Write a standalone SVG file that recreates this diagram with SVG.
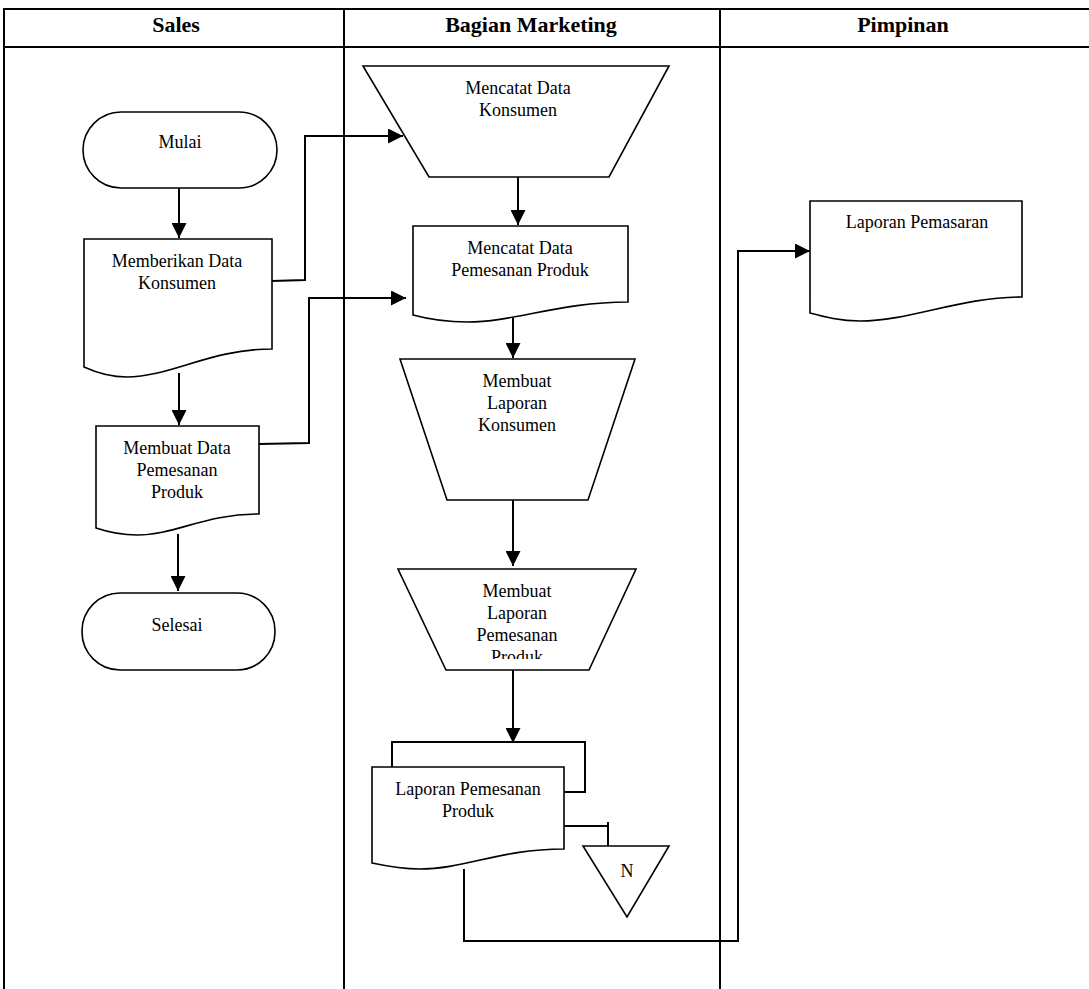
<svg xmlns="http://www.w3.org/2000/svg" width="1089" height="989" viewBox="0 0 1089 989">
<style>
.lane{stroke:#000;stroke-width:2;fill:none}
.shape{fill:#fff;stroke:#000;stroke-width:1.6}
.conn{fill:none;stroke:#000;stroke-width:2}
.t{font-family:"Liberation Serif","Times New Roman",serif;font-size:18px;fill:#000;text-anchor:middle}
.h{font-family:"Liberation Serif","Times New Roman",serif;font-size:22px;font-weight:bold;fill:#000;text-anchor:middle}
</style>
<defs>
<marker id="arr" markerUnits="userSpaceOnUse" markerWidth="15" markerHeight="15" refX="15" refY="7.5" orient="auto">
<path d="M0,0 L15,7.5 L0,15 Z" fill="#000"/>
</marker>
<clipPath id="clipT3"><rect x="380" y="560" width="280" height="99"/></clipPath>
</defs>
<rect width="1089" height="989" fill="#fff"/>
<g id="lanes">
<line class="lane" x1="3" y1="9" x2="1089" y2="9"/>
<line class="lane" x1="3" y1="47" x2="1089" y2="47"/>
<line class="lane" x1="4" y1="8" x2="4" y2="989"/>
<line class="lane" x1="344" y1="8" x2="344" y2="989"/>
<line class="lane" x1="720" y1="8" x2="720" y2="989"/>
<text class="h" x="176" y="32">Sales</text>
<text class="h" x="531" y="32">Bagian Marketing</text>
<text class="h" x="903" y="32">Pimpinan</text>
</g>
<g id="connectors">
<path class="conn" d="M179,188 V238" marker-end="url(#arr)"/>
<path class="conn" d="M179,373 V425" marker-end="url(#arr)"/>
<path class="conn" d="M178,534 V591" marker-end="url(#arr)"/>
<path class="conn" d="M272,281 L305,280 V136 H403" marker-end="url(#arr)"/>
<path class="conn" d="M259,444 L309,443 V298 H406" marker-end="url(#arr)"/>
<path class="conn" d="M518,177 V225" marker-end="url(#arr)"/>
<path class="conn" d="M513,318 V358" marker-end="url(#arr)"/>
<path class="conn" d="M513,500 V566" marker-end="url(#arr)"/>
<path class="conn" d="M513,670 V743" marker-end="url(#arr)"/>
<path class="conn" d="M560,826 H608 M608,822 V846"/>
<path class="conn" d="M464,869 V941 H738 V251 H810" marker-end="url(#arr)"/>
</g>
<g id="mulai">
<rect class="shape" x="83" y="112" width="194" height="76" rx="38" ry="38"/>
<text class="t" x="180" y="148">Mulai</text>
</g>
<g id="memberikan">
<path class="shape" d="M84,239 H272 V349 C210,349 170,377 127,377 C108,377 95,372 84,367 Z"/>
<text class="t" x="177" y="267">Memberikan Data</text>
<text class="t" x="177" y="289">Konsumen</text>
</g>
<g id="membuat-data">
<path class="shape" d="M96,426 H259 V514 C205,514 175,535 137,535 C120,535 108,532 96,528 Z"/>
<text class="t" x="177" y="454">Membuat Data</text>
<text class="t" x="177" y="476">Pemesanan</text>
<text class="t" x="177" y="498">Produk</text>
</g>
<g id="selesai">
<rect class="shape" x="82" y="593" width="193" height="77" rx="38" ry="38"/>
<text class="t" x="177" y="631">Selesai</text>
</g>
<g id="mencatat-konsumen">
<path class="shape" d="M363,66 H669 L609,177 H429 Z"/>
<text class="t" x="518" y="94">Mencatat Data</text>
<text class="t" x="518" y="116">Konsumen</text>
</g>
<g id="mencatat-pemesanan">
<path class="shape" d="M413,226 H628 V302 C560,302 515,322 467,322 C445,322 428,319 413,315 Z"/>
<text class="t" x="520" y="254">Mencatat Data</text>
<text class="t" x="520" y="276">Pemesanan Produk</text>
</g>
<g id="laporan-konsumen">
<path class="shape" d="M400,359 H635 L588,500 H447 Z"/>
<text class="t" x="517" y="387">Membuat</text>
<text class="t" x="517" y="409">Laporan</text>
<text class="t" x="517" y="431">Konsumen</text>
</g>
<g id="laporan-pemesanan">
<path class="shape" d="M398,569 H636 L589,670 H446 Z"/>
<g clip-path="url(#clipT3)">
<text class="t" x="517" y="597">Membuat</text>
<text class="t" x="517" y="619">Laporan</text>
<text class="t" x="517" y="641">Pemesanan</text>
<text class="t" x="517" y="663">Produk</text>
</g>
</g>
<g id="laporan-pemesanan-doc">
<path class="conn" d="M392,767 V742 H585 V792 H560"/>
<path class="shape" d="M372,767 H564 V849 C500,849 465,869 420,869 C400,869 386,866 372,863 Z"/>
<text class="t" x="468" y="795">Laporan Pemesanan</text>
<text class="t" x="468" y="817">Produk</text>
</g>
<g id="arsip-n">
<path class="shape" d="M583,846 H669 L627,917 Z"/>
<text class="t" x="627" y="877">N</text>
</g>
<g id="laporan-pemasaran">
<path class="shape" d="M810,201 H1022 V297 C960,297 910,321 860,321 C840,321 825,317 810,313 Z"/>
<text class="t" x="917" y="228">Laporan Pemasaran</text>
</g>
</svg>
